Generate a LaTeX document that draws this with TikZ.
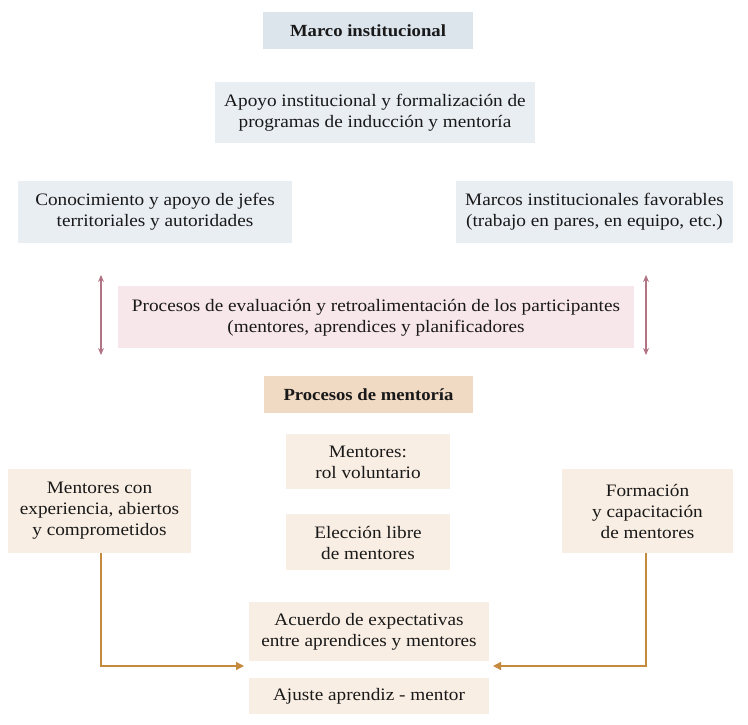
\documentclass[tikz,border=0pt]{standalone}
\usepackage{fontspec}
\setmainfont{Liberation Serif}[FakeStretch=1.1]
\usetikzlibrary{arrows.meta}
\definecolor{bluehead}{HTML}{DCE5EC}
\definecolor{bluebox}{HTML}{E9EEF3}
\definecolor{pinkbox}{HTML}{F7E6EA}
\definecolor{tanhead}{HTML}{F1DAC4}
\definecolor{tanbox}{HTML}{F9EEE3}
\definecolor{mauve}{HTML}{B07484}
\definecolor{ocre}{HTML}{C68A3E}
\tikzset{
  box/.style={inner sep=0pt, align=center, font=\fontsize{17.5}{21}\selectfont, text=black!90},
  headbox/.style={box, font=\fontsize{17}{21}\selectfont\bfseries},
  dbl/.style={mauve, line width=1.1pt, {Stealth[length=7pt,width=6pt]}-{Stealth[length=7pt,width=6pt]}},
  feed/.style={ocre, line width=1.3pt, -{Triangle[length=8pt,width=8pt]}}
}
\begin{document}
\begin{tikzpicture}[x=1pt,y=-1pt]
\useasboundingbox (0,0) rectangle (748,725);
\fill[bluehead] (263,12) rectangle (473,49);
\node[headbox] (mi) at (368,30.5) {Marco institucional};
\fill[bluebox] (215,82) rectangle (535,143);
\node[box] (apoyo) at (375,113) {Apoyo institucional y formalización de\\programas de inducción y mentoría};
\fill[bluebox] (18,181) rectangle (292,243);
\node[box] (conoc) at (155,212) {Conocimiento y apoyo de jefes\\territoriales y autoridades};
\fill[bluebox] (456,181) rectangle (733,243);
\node[box] (marcos) at (594.5,212) {Marcos institucionales favorables\\(trabajo en pares, en equipo, etc.)};
\fill[pinkbox] (118,286) rectangle (634,348);
\node[box] (eval) at (376,317.5) {Procesos de evaluación y retroalimentación de los participantes\\(mentores, aprendices y planificadores};
\coordinate (lt) at (101,275); \coordinate (lb) at (101,355);
\coordinate (rt) at (646,275); \coordinate (rb) at (646,355);
\draw[dbl] (lt) -- (lb);
\draw[dbl] (rt) -- (rb);
\fill[tanhead] (264,376) rectangle (473,413);
\node[headbox] (pm) at (368.5,395) {Procesos de mentoría};
\fill[tanbox] (286,434) rectangle (450,489);
\node[box] (rol) at (368,462) {Mentores:\\rol voluntario};
\fill[tanbox] (8,469) rectangle (191,553);
\node[box] (exp) at (99.5,511) {Mentores con\\experiencia, abiertos\\y comprometidos};
\fill[tanbox] (286,514) rectangle (450,570);
\node[box] (elec) at (368,543) {Elección libre\\de mentores};
\fill[tanbox] (562,469) rectangle (733,553);
\node[box] (form) at (647.5,511) {Formación\\y capacitación\\de mentores};
\fill[tanbox] (249,602) rectangle (489,661);
\node[box] (acu) at (369,632) {Acuerdo de expectativas\\entre aprendices y mentores};
\fill[tanbox] (249,678) rectangle (489,714);
\node[box] (aju) at (369,696.5) {Ajuste aprendiz - mentor};
\coordinate (expb) at (101,553);
\coordinate (formb) at (646,553);
\coordinate (la) at (244,666);
\coordinate (ra) at (493,666);
\draw[feed] (expb) |- (la);
\draw[feed] (formb) |- (ra);
\end{tikzpicture}
\end{document}
